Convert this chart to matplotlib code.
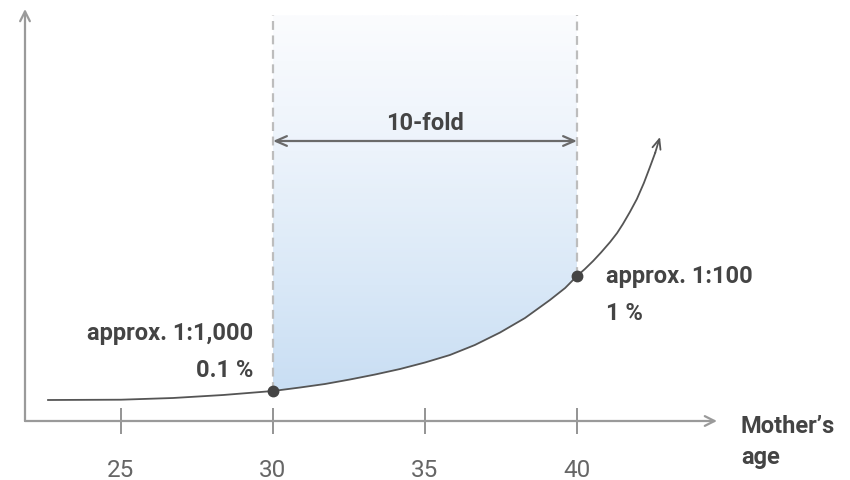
import numpy as np
import matplotlib
matplotlib.use("Agg")
import matplotlib.pyplot as plt
from matplotlib.colors import LinearSegmentedColormap
from matplotlib.patches import Polygon

plt.rcParams["font.family"] = ["Roboto", "DejaVu Sans"]

# Risk curve (illustrative height above the age axis) against mother's age
ages = [22.6, 25.0, 26.71, 28.36, 29.18, 30.0, 30.89, 31.71, 32.53, 33.36,
        34.18, 35.0, 35.82, 36.64, 37.47, 38.29, 39.11, 39.61, 40.0, 40.26,
        40.53, 40.79, 41.09, 41.32, 41.51, 41.74, 41.97, 42.20, 42.40, 42.57,
        42.73]
risk = [21, 21.3, 23, 26, 28, 30, 33.5, 37, 41.5, 46.5,
        52, 58.5, 66, 76, 88.5, 103, 121, 133, 145, 152,
        160, 168.5, 179, 188, 197, 209, 222, 238, 254, 268,
        284]

tick_ages = [25, 30, 35, 40]
tick_labels = ["25", "30", "35", "40"]

marked_ages = [30, 40]
marked_risk = [30, 145]
low_label = ["approx. 1:1,000", "0.1 %"]
high_label = ["approx. 1:100", "1 %"]
fold_label = "10-fold"
x_title = ["Mother\u2019s", "age"]

W, H = 850, 481
fig = plt.figure(figsize=(W / 100, H / 100), dpi=100)
ax = fig.add_axes([0, 0, 1, 1])
px_per_year = 30.4
x0 = 25 - 121 / px_per_year
ax.set_xlim(x0, x0 + W / px_per_year)
ax.set_ylim(-59, 422)
ax.axis("off")

axis_col = "#9a9a9a"
dark = "#444444"

# axes with open arrow heads
ax.annotate("", xy=(x0 + 717 / px_per_year, 0), xytext=(x0 + 25 / px_per_year, 0),
            arrowprops=dict(arrowstyle="->,head_length=0.7,head_width=0.35",
                            color=axis_col, lw=1.6, shrinkA=0, shrinkB=0))
ax.annotate("", xy=(x0 + 25 / px_per_year, 412), xytext=(x0 + 25 / px_per_year, 0),
            arrowprops=dict(arrowstyle="->,head_length=0.7,head_width=0.35",
                            color=axis_col, lw=1.6, shrinkA=0, shrinkB=0))

# ticks and tick labels
for a, lab in zip(tick_ages, tick_labels):
    ax.plot([a, a], [-13, 13], color="#777777", lw=1.1, solid_capstyle="butt")
    ax.text(a, -55, lab, ha="center", va="baseline", fontsize=17.5, color="#666666")

# shaded band between the two marked ages, fading upwards
a_arr = np.array(ages)
r_arr = np.array(risk)
sel = (a_arr >= marked_ages[0]) & (a_arr <= marked_ages[1])
top = 406
verts = list(zip(a_arr[sel], r_arr[sel])) + [(marked_ages[1], top), (marked_ages[0], top)]
clip = Polygon(verts, closed=True, facecolor="none", edgecolor="none")
ax.add_patch(clip)
cmap = LinearSegmentedColormap.from_list(
    "band", ["#c4dbf2", "#d9e8f7", "#ecf3fb", "#fbfcfe"])
grad = np.linspace(0, 1, 256).reshape(-1, 1)
img = ax.imshow(grad, cmap=cmap, origin="lower", aspect="auto",
                extent=[marked_ages[0], marked_ages[1], 0, top], zorder=1)
img.set_clip_path(clip)

# dashed guides
for a, r in zip(marked_ages, marked_risk):
    ax.plot([a, a], [r, top], color="#bdbdbd", lw=1.6, ls=(0, (4, 2.5)), zorder=2)

# curve with arrow head at its end
ax.plot(ages[:-1], risk[:-1], color="#555555", lw=1.3, zorder=3,
        solid_joinstyle="round")
ax.annotate("", xy=(ages[-1], risk[-1]), xytext=(ages[-2], risk[-2]),
            arrowprops=dict(arrowstyle="->,head_length=0.7,head_width=0.3",
                            color="#555555", lw=1.3, shrinkA=0, shrinkB=0), zorder=3)

ax.plot(marked_ages, marked_risk, "o", color=dark, ms=7.5, zorder=4)

# 10-fold span arrow
ax.annotate("", xy=(marked_ages[0], 280), xytext=(marked_ages[1], 280),
            arrowprops=dict(arrowstyle="<->,head_length=0.8,head_width=0.35",
                            color="#6a6a6a", lw=1.6, shrinkA=0, shrinkB=0))
ax.text(35, 292, fold_label, ha="center", va="baseline", fontsize=17,
        fontweight="bold", color=dark)

bold = dict(fontsize=17, fontweight="bold", color=dark, va="baseline")
ax.text(x0 + 253 / px_per_year, 82, low_label[0], ha="right", **bold)
ax.text(x0 + 253 / px_per_year, 45, low_label[1], ha="right", **bold)
ax.text(x0 + 606 / px_per_year, 139, high_label[0], ha="left", **bold)
ax.text(x0 + 606 / px_per_year, 102, high_label[1], ha="left", **bold)
ax.text(x0 + 741 / px_per_year, -11, x_title[0], ha="left", **bold)
ax.text(x0 + 741 / px_per_year, -42, x_title[1], ha="left", **bold)

fig.savefig("out.png", dpi=100)
